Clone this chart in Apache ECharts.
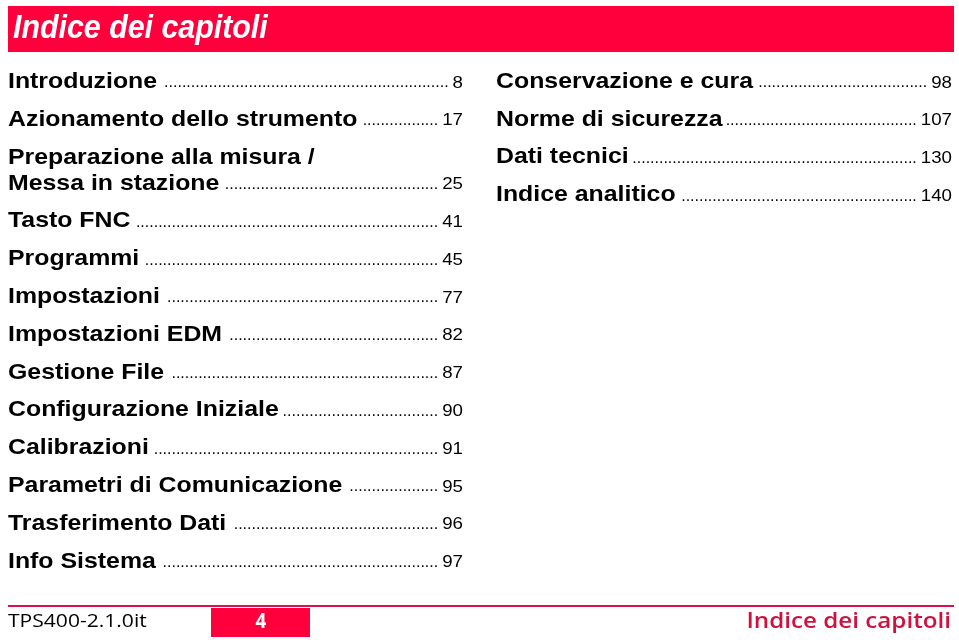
<!DOCTYPE html>
<html><head><meta charset="utf-8">
<script src="https://cdn.jsdelivr.net/npm/echarts@6/dist/echarts.min.js"></script>
<style>html,body{margin:0;padding:0;background:#fff}#c{width:959px;height:640px}</style>
</head><body><div id="c"></div>
<script>
// ---- content ----
const pageTitle = "Indice dei capitoli";
const leftTitles = ["Introduzione", "Azionamento dello strumento", "Preparazione alla misura /\nMessa in stazione", "Tasto FNC", "Programmi", "Impostazioni", "Impostazioni EDM", "Gestione File", "Configurazione Iniziale", "Calibrazioni", "Parametri di Comunicazione", "Trasferimento Dati", "Info Sistema"];
const leftPages = [8, 17, 25, 41, 45, 77, 82, 87, 90, 91, 95, 96, 97];
const rightTitles = ["Conservazione e cura", "Norme di sicurezza", "Dati tecnici", "Indice analitico"];
const rightPages = [98, 107, 130, 140];
const footerLeft = "TPS400-2.1.0it";
const footerPage = "4";
const footerRight = "Indice dei capitoli";

// ---- style ----
const RED = '#ff003c', DARK_RED = '#d8124a';
const TITLE_FONT = 'bold 22px "Liberation Sans", Arial, sans-serif';
const TSX = 1.13;
const NUM_FONT = '17px "Liberation Sans", Arial, sans-serif';
const NSX = 1.1;
const DOT_FONT = '16px "Liberation Sans", Arial, sans-serif';

const ctx = document.createElement('canvas').getContext('2d');
function measure(text, font) { ctx.font = font; return ctx.measureText(text).width; }

function column(titles, pages, x0, xr, y0, rowH, lineH) {
  const els = [];
  let y = y0;
  titles.forEach((t, i) => {
    const lines = t.split('\n');
    lines.forEach((ln, j) => {
      els.push({ type: 'text', x: x0, y: y, scaleX: TSX,
        style: { text: ln, font: TITLE_FONT, fill: '#000', textAlign: 'left', textVerticalAlign: 'middle' } });
      if (j === lines.length - 1) {
        const tw = measure(ln, TITLE_FONT) * TSX;
        const num = String(pages[i]);
        const nw = measure(num, NUM_FONT) * NSX;
        const ds = x0 + tw + 3, de = xr - nw - 4;
        const dw = measure('.', DOT_FONT);
        const n = Math.max(0, Math.floor((de - ds) / dw));
        els.push({ type: 'text', x: de, y: y + 1, style: { text: '.'.repeat(n), font: DOT_FONT, fill: '#000', textAlign: 'right', textVerticalAlign: 'middle' } });
        els.push({ type: 'text', x: xr, y: y + 1, scaleX: NSX, style: { text: num, font: NUM_FONT, fill: '#000', textAlign: 'right', textVerticalAlign: 'middle' } });
      } else {
        y += lineH;
      }
    });
    y += rowH;
  });
  return els;
}

const graphics = [
  { type: 'rect', shape: { x: 8, y: 6, width: 946, height: 46 }, style: { fill: RED } },
  { type: 'text', x: 13, y: 29, scaleX: 0.92, style: { text: pageTitle, font: 'italic bold 33px "Liberation Sans", Arial, sans-serif', fill: '#fff', textAlign: 'left', textVerticalAlign: 'middle' } },
  ...column(leftTitles, leftPages, 8, 463, 82, 37.8, 26),
  ...column(rightTitles, rightPages, 496, 952, 82, 37.7, 26),
  { type: 'rect', shape: { x: 8, y: 605, width: 946, height: 2 }, style: { fill: DARK_RED } },
  { type: 'rect', shape: { x: 211, y: 608, width: 99, height: 29 }, style: { fill: RED } },
  { type: 'text', x: 261, y: 622, scaleX: 0.9, style: { text: footerPage, font: 'bold 21px "Open Sans", sans-serif', fill: '#fff', textAlign: 'center', textVerticalAlign: 'middle' } },
  { type: 'text', x: 8, y: 622, scaleX: 1.17, style: { text: footerLeft, font: '18px "Open Sans", sans-serif', fill: '#000', textAlign: 'left', textVerticalAlign: 'middle' } },
  { type: 'text', x: 951, y: 622, scaleX: 1.1, style: { text: footerRight, font: '600 22px "Open Sans", sans-serif', fill: '#d0103f', textAlign: 'right', textVerticalAlign: 'middle' } }
];

const chart = echarts.init(document.getElementById('c'), null, { renderer: 'canvas' });
chart.setOption({ backgroundColor: '#fff', animation: false, graphic: graphics });
</script>
</body></html>
